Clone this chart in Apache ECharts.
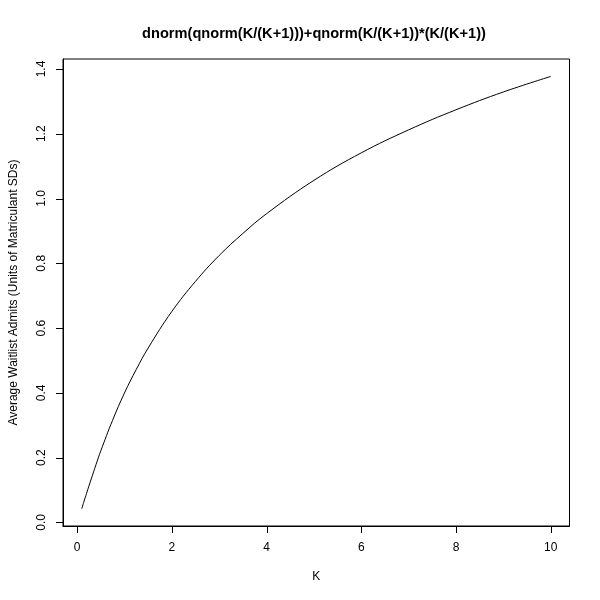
<!DOCTYPE html>
<html>
<head>
<meta charset="utf-8">
<script src="https://cdn.jsdelivr.net/npm/echarts@6/dist/echarts.min.js"></script>
<style>html,body{margin:0;padding:0;background:#fff}#c{width:600px;height:600px}</style>
</head>
<body>
<div id="c"></div>
<script>
var kValues = [0.1, 0.15, 0.2, 0.3, 0.4, 0.5, 0.75, 1, 1.25, 1.5, 2, 2.5, 3, 3.5, 4, 5, 6, 7, 8, 9, 10];
var admits  = [0.042, 0.066, 0.089, 0.134, 0.178, 0.220, 0.315, 0.399, 0.472, 0.538, 0.651, 0.744, 0.824, 0.892, 0.953, 1.056, 1.141, 1.212, 1.274, 1.329, 1.377];
var xTicks = [0, 2, 4, 6, 8, 10];
var yTicks = [0, 0.2, 0.4, 0.6, 0.8, 1.0, 1.2, 1.4];
var chartTitle = 'dnorm(qnorm(K/(K+1)))+qnorm(K/(K+1))*(K/(K+1))';
var xName = 'K';
var yName = 'Average Waitlist Admits (Units of Matriculant SDs)';

var xMin = -0.296, xMax = 10.396, yMin = -0.0112, yMax = 1.4308;
var font = '"Liberation Sans", Arial, Helvetica, sans-serif';
var chart = echarts.init(document.getElementById('c'), null, {renderer: 'canvas'});
chart.setOption({
  animation: false,
  backgroundColor: '#fff',
  title: {
    text: chartTitle, left: 309, top: 21, textAlign: 'center',
    textStyle: {fontFamily: font, fontSize: 14.6, fontWeight: 'bold', color: '#000'}
  },
  grid: {left: 59, right: 30.5, top: 59, bottom: 74, show: true, borderColor: '#000', borderWidth: 1, backgroundColor: 'transparent'},
  xAxis: {
    type: 'value', min: xMin, max: xMax,
    name: xName, nameLocation: 'middle', nameGap: 45,
    nameTextStyle: {fontFamily: font, fontSize: 12, color: '#000'},
    axisLine: {show: true, onZero: false, lineStyle: {color: '#000', width: 1}},
    splitLine: {show: false},
    axisTick: {show: false},
    axisLabel: {customValues: xTicks, margin: 16, fontFamily: font, fontSize: 12, color: '#000', formatter: function(v){return String(v);}}
  },
  yAxis: {
    type: 'value', min: yMin, max: yMax,
    name: yName, nameLocation: 'middle', nameGap: 43,
    nameTextStyle: {fontFamily: font, fontSize: 12, color: '#000'},
    axisLine: {show: true, onZero: false, lineStyle: {color: '#000', width: 1}},
    splitLine: {show: false},
    axisTick: {show: false},
    axisLabel: {customValues: yTicks, rotate: 90, margin: 15, fontFamily: font, fontSize: 12, color: '#000', formatter: function(v){return v.toFixed(1);}}
  },
  series: [{
    type: 'line',
    data: kValues.map(function(k, i){ return [k, admits[i]]; }),
    smooth: 0.4,
    showSymbol: false,
    lineStyle: {color: '#000', width: 1},
    clip: true
  }, {
    type: 'custom',
    clip: false,
    z: 10,
    silent: true,
    data: xTicks.map(function(v){ return [v, yMin]; }),
    renderItem: function(params, api){
      var p = api.coord([api.value(0), api.value(1)]);
      var x = Math.round(p[0]) + 0.5, y = Math.round(p[1]);
      return {type: 'line', shape: {x1: x, y1: y, x2: x, y2: y + 7}, style: {stroke: '#000', lineWidth: 1}};
    }
  }, {
    type: 'custom',
    clip: false,
    z: 10,
    silent: true,
    data: yTicks.map(function(v){ return [xMin, v]; }),
    renderItem: function(params, api){
      var p = api.coord([api.value(0), api.value(1)]);
      var x = Math.round(p[0]), y = Math.round(p[1]) + 0.5;
      return {type: 'line', shape: {x1: x, y1: y, x2: x - 7, y2: y}, style: {stroke: '#000', lineWidth: 1}};
    }
  }]
});
</script>
</body>
</html>
